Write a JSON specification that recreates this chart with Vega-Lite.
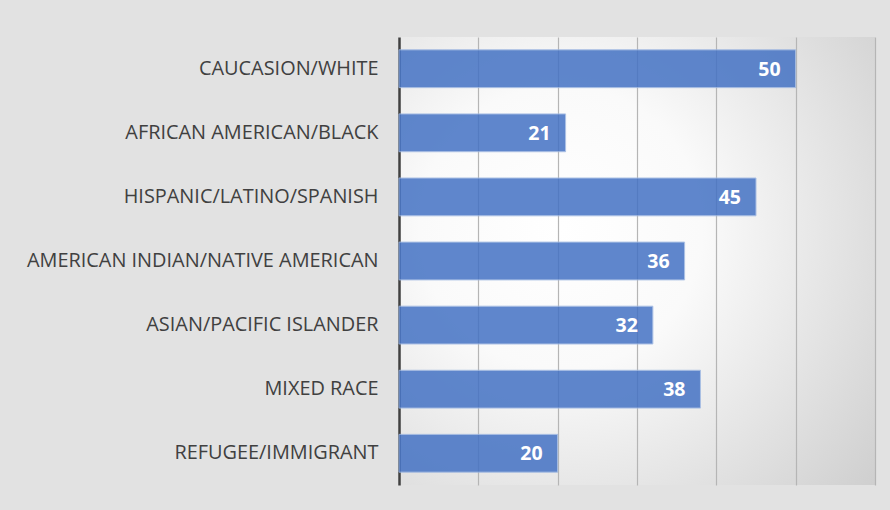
{
  "$schema": "https://vega.github.io/schema/vega-lite/v6.json",
  "width": 476,
  "height": 448,
  "autosize": {"type": "none"},
  "padding": {"left": 399, "top": 37, "right": 15, "bottom": 25},
  "background": "#e2e2e2",
  "config": {
    "view": {
      "stroke": null,
      "fill": {
        "gradient": "radial",
        "x1": 0.34, "y1": 0.43, "r1": 0,
        "x2": 0.34, "y2": 0.43, "r2": 0.85,
        "stops": [
          {"offset": 0, "color": "#ffffff"},
          {"offset": 0.35, "color": "#fafafa"},
          {"offset": 1, "color": "#cfcfcf"}
        ]
      }
    },
    "font": "Open Sans"
  },
  "data": {
    "values": [
      {"group": "CAUCASION/WHITE ", "count": 50},
      {"group": "AFRICAN AMERICAN/BLACK ", "count": 21},
      {"group": "HISPANIC/LATINO/SPANISH", "count": 45},
      {"group": "AMERICAN INDIAN/NATIVE AMERICAN", "count": 36},
      {"group": "ASIAN/PACIFIC ISLANDER", "count": 32},
      {"group": "MIXED RACE", "count": 38},
      {"group": "REFUGEE/IMMIGRANT ", "count": 20}
    ]
  },
  "encoding": {
    "y": {
      "field": "group",
      "type": "nominal",
      "sort": null,
      "scale": {"paddingInner": 0.41, "paddingOuter": 0.2},
      "axis": {
        "title": null,
        "ticks": false,
        "labelFontSize": 19.9,
        "labelColor": "#404040",
        "labelPadding": 21,
        "labelLimit": 400,
        "domainColor": "#404040",
        "domainWidth": 2.5,
        "grid": false
      }
    },
    "x": {
      "field": "count",
      "type": "quantitative",
      "scale": {"domain": [0, 60], "nice": false},
      "axis": {
        "title": null,
        "labels": false,
        "ticks": false,
        "domain": false,
        "values": [10, 20, 30, 40, 50, 60],
        "grid": true,
        "gridColor": "#b5b5b5",
        "gridWidth": 1.2
      }
    }
  },
  "layer": [
    {
      "mark": {
        "type": "bar",
        "color": "#4472C4",
        "opacity": 0.85,
        "stroke": "#9fb8e2",
        "strokeWidth": 1
      }
    },
    {
      "mark": {
        "type": "text",
        "align": "right",
        "baseline": "middle",
        "dx": -15,
        "dy": 1,
        "color": "#ffffff",
        "fontSize": 19.5,
        "fontWeight": "bold"
      },
      "encoding": {"text": {"field": "count", "type": "quantitative"}}
    }
  ]
}
